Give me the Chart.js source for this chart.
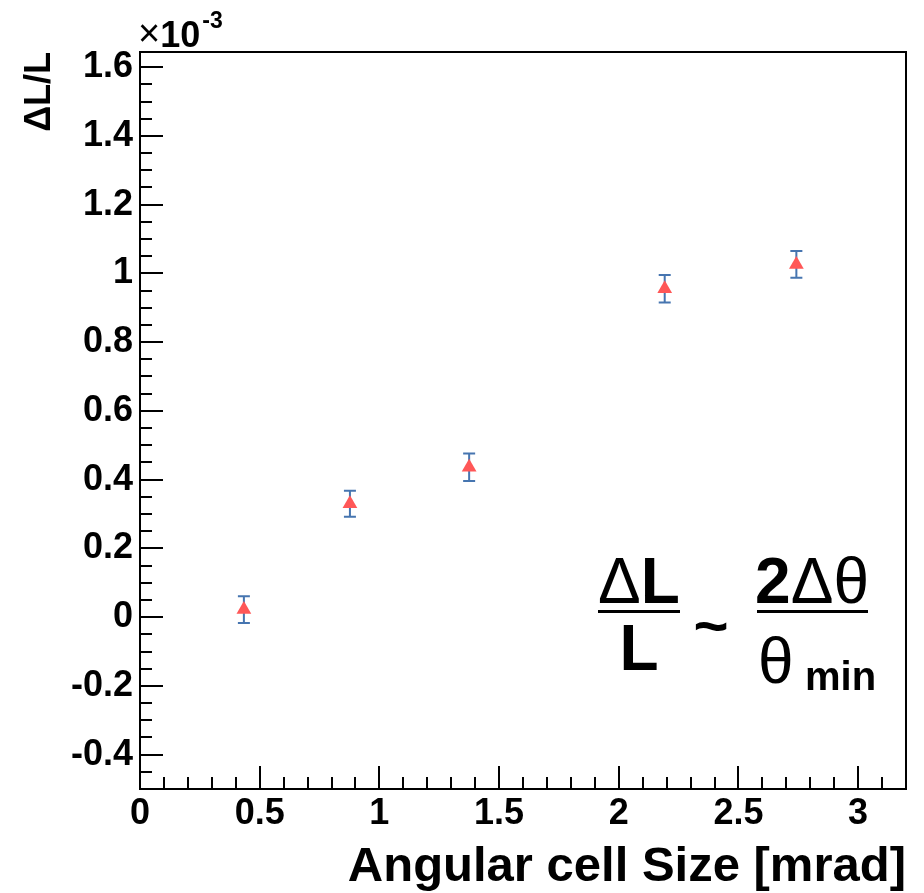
<!DOCTYPE html>
<html><head><meta charset="utf-8">
<script src="https://cdn.jsdelivr.net/npm/chart.js@4.4.0/dist/chart.umd.min.js"></script>
<style>html,body{margin:0;padding:0;background:#fff;}#wrap{width:924px;height:893px;}</style>
</head><body><div id="wrap"><canvas id="c" width="924" height="893"></canvas></div>
<script>
// ---- data ----
const cellSize   = [0.434, 0.877, 1.375, 2.192, 2.742];   // x [mrad]
const deltaLL    = [0.022, 0.330, 0.436, 0.955, 1.026];   // y [x1e-3]
const deltaLLErr = [0.039, 0.038, 0.040, 0.040, 0.039];
const xTickValues = [0, 0.5, 1, 1.5, 2, 2.5, 3];
const xTickLabels = ['0', '0.5', '1', '1.5', '2', '2.5', '3'];
const yTickValues = [-0.4, -0.2, 0, 0.2, 0.4, 0.6, 0.8, 1, 1.2, 1.4, 1.6];
const yTickLabels = ['-0.4', '-0.2', '0', '0.2', '0.4', '0.6', '0.8', '1', '1.2', '1.4', '1.6'];
const xRange = [0, 3.2];
const yRange = [-0.5, 1.644];
const xTitle = 'Angular cell Size [mrad]';
const yTitle = '\u0394L/L';

const FONT = '"Liberation Sans", Arial, Helvetica, sans-serif';
const markerColor = '#ff5757';
const errColor = '#4675b0';

const decor = {
  id: 'decor',
  beforeDatasetsDraw(chart) {
    const {ctx, scales: {x, y}} = chart;
    ctx.save();
    ctx.strokeStyle = errColor;
    ctx.lineWidth = 2;
    cellSize.forEach((v, i) => {
      const px = x.getPixelForValue(v);
      const top = y.getPixelForValue(deltaLL[i] + deltaLLErr[i]);
      const bot = y.getPixelForValue(deltaLL[i] - deltaLLErr[i]);
      ctx.beginPath();
      ctx.moveTo(px, top); ctx.lineTo(px, bot);
      ctx.moveTo(px - 6, top); ctx.lineTo(px + 6, top);
      ctx.moveTo(px - 6, bot); ctx.lineTo(px + 6, bot);
      ctx.stroke();
    });
    ctx.restore();
  },
  afterDraw(chart) {
    const {ctx, chartArea: a, scales: {x, y}} = chart;
    ctx.save();
    // frame
    ctx.strokeStyle = '#000';
    ctx.lineWidth = 2;
    ctx.strokeRect(a.left, a.top, a.right - a.left, a.bottom - a.top);
    // x ticks (inward), major 0.5, minor 0.1
    ctx.beginPath();
    for (let k = 0; k <= 32; k++) {
      const px = Math.round(x.getPixelForValue(k * 0.1));
      const len = (k % 5 === 0) ? 23 : 12;
      ctx.moveTo(px, a.bottom); ctx.lineTo(px, a.bottom - len);
    }
    // y ticks, major 0.2, minor 0.05
    for (let k = -10; k <= 32; k++) {
      const py = Math.round(y.getPixelForValue(k * 0.05));
      const len = (k % 4 === 0) ? 23 : 12;
      ctx.moveTo(a.left, py); ctx.lineTo(a.left + len, py);
    }
    ctx.stroke();

    ctx.fillStyle = '#000';
    ctx.textBaseline = 'alphabetic';
    ctx.textAlign = 'left';
    // x10^-3
    ctx.font = '38px ' + FONT;
    ctx.fillText('\u00d7', a.left - 2, 46);
    let xx = a.left - 2 + ctx.measureText('\u00d7').width;
    ctx.font = 'bold 36px ' + FONT;
    ctx.fillText('10', xx, 47);
    xx += ctx.measureText('10').width + 2;
    ctx.font = 'bold 23px ' + FONT;
    ctx.fillText('-3', xx, 28);

    // formula  dL/L ~ 2dtheta/theta_min
    const seg = (parts, cx, base) => {
      let w = 0;
      parts.forEach(p => { ctx.font = p[1]; w += ctx.measureText(p[0]).width; });
      let q = cx - w / 2;
      parts.forEach(p => { ctx.font = p[1]; ctx.fillText(p[0], q, base); q += ctx.measureText(p[0]).width; });
    };
    const big = 64;
    seg([['\u0394', big + 'px ' + FONT], ['L', 'bold ' + big + 'px ' + FONT]], 639, 603);
    ctx.fillRect(598, 610, 82, 3);
    seg([['L', 'bold ' + big + 'px ' + FONT]], 639, 670);
    ctx.font = 'bold 60px ' + FONT;
    ctx.textAlign = 'center';
    ctx.fillText('~', 711, 646);
    ctx.textAlign = 'left';
    seg([['2', 'bold ' + big + 'px ' + FONT], ['\u0394\u03b8', big + 'px ' + FONT]], 812, 603);
    ctx.fillRect(757, 610, 111, 3);
    ctx.font = big + 'px ' + FONT;
    ctx.fillText('\u03b8', 758, 683);
    ctx.font = 'bold 40px ' + FONT;
    ctx.fillText('min', 805, 690);
    ctx.restore();
  }
};

new Chart(document.getElementById('c'), {
  type: 'scatter',
  data: {
    datasets: [{
      data: cellSize.map((v, i) => ({x: v, y: deltaLL[i]})),
      pointStyle: 'triangle',
      pointRadius: 8.5,
      backgroundColor: markerColor,
      borderWidth: 0
    }]
  },
  options: {
    responsive: false,
    animation: false,
    devicePixelRatio: 1,
    layout: {padding: {left: 0, right: 18, top: 52, bottom: 0}},
    plugins: {legend: {display: false}, tooltip: {enabled: false}},
    scales: {
      x: {
        type: 'linear', position: 'bottom', min: xRange[0], max: xRange[1],
        afterBuildTicks: s => { s.ticks = xTickValues.map(v => ({value: v})); },
        afterFit: s => { s.height = 104; },
        grid: {display: false, drawTicks: false, tickLength: 0}, border: {display: false},
        ticks: {
          callback: v => xTickLabels[xTickValues.indexOf(v)],
          font: {family: FONT, size: 36, weight: 'bold'}, color: '#000',
          padding: 3, maxRotation: 0, autoSkip: false
        },
        title: {display: true, text: xTitle, align: 'end', color: '#000',
          font: {family: FONT, size: 49, weight: 'bold'}, padding: {top: 0, bottom: -4}}
      },
      y: {
        type: 'linear', position: 'left', min: yRange[0], max: yRange[1],
        afterBuildTicks: s => { s.ticks = yTickValues.map(v => ({value: v})); },
        afterFit: s => { s.width = 140; },
        grid: {display: false, drawTicks: false, tickLength: 0}, border: {display: false},
        ticks: {
          callback: v => yTickLabels[yTickValues.indexOf(v)],
          font: {family: FONT, size: 36, weight: 'bold'}, color: '#000',
          padding: 7, autoSkip: false
        },
        title: {display: true, text: yTitle, align: 'end', color: '#000',
          font: {family: FONT, size: 36, weight: 'bold'}, padding: {top: 18, bottom: 0}}
      }
    }
  },
  plugins: [decor]
});
</script></body></html>
